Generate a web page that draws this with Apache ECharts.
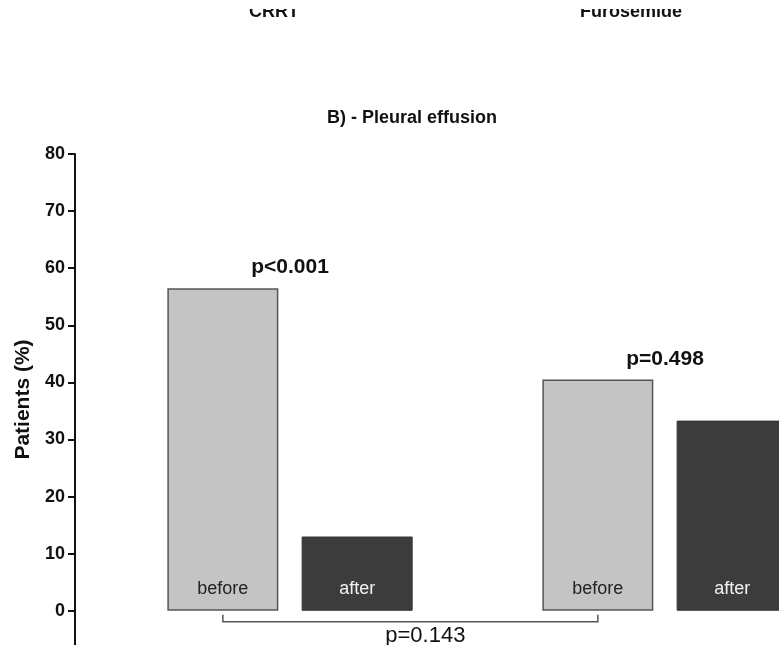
<!DOCTYPE html>
<html>
<head>
<meta charset="utf-8">
<script src="https://cdn.jsdelivr.net/npm/echarts@6/dist/echarts.min.js"></script>
<style>
  html, body { margin: 0; padding: 0; background: #ffffff; }
  #chart { width: 779px; height: 645px; }
</style>
</head>
<body>
<div id="chart"></div>
<script>
// Pleural effusion, share of patients before / after treatment
const categories = ['CRRT', 'Furosemide'];
const beforeValues = [56.5, 40.5];
const afterValues = [13.0, 33.3];
const withinGroupP = ['p<0.001', 'p=0.498'];
const betweenGroupP = 'p=0.143';
const yTicks = [0, 10, 20, 30, 40, 50, 60, 70, 80];
const upperPanelLabels = ['CRRT', 'Furosemide'];

const FONT = "'Liberation Sans', Arial, Helvetica, sans-serif";
const BAR_WIDTH = 111;
const BAR_GAP = 0.21;
// distance from a group's centre to the centre of each of its two bars
const HALF_PITCH = (BAR_WIDTH + BAR_WIDTH * BAR_GAP) / 2;

const chart = echarts.init(document.getElementById('chart'), null, { renderer: 'canvas' });

const option = {
  backgroundColor: '#ffffff',
  animation: false,
  title: {
    text: 'B) - Pleural effusion',
    left: 327,
    top: 109,
    padding: 0,
    textStyle: { fontFamily: FONT, fontWeight: 'bold', fontSize: 18, color: '#111' }
  },
  grid: {
    left: 102.5, width: 750, top: 154, bottom: 0,
    containLabel: false, outerBoundsMode: 'none'
  },
  xAxis: {
    type: 'category',
    data: categories,
    show: false
  },
  yAxis: {
    type: 'value',
    min: -6,
    max: 80,
    offset: 27.5,
    name: 'Patients (%)',
    nameLocation: 'middle',
    nameRotate: 90,
    nameGap: 40,
    nameTextStyle: { fontFamily: FONT, fontWeight: 'bold', fontSize: 21, color: '#111' },
    axisLine: { show: true, lineStyle: { color: '#111', width: 2 } },
    axisTick: { show: true, length: 7, customValues: yTicks, lineStyle: { color: '#111', width: 2 } },
    axisLabel: {
      customValues: yTicks,
      margin: 10,
      fontFamily: FONT, fontWeight: 'bold', fontSize: 18, color: '#111'
    },
    splitLine: { show: false }
  },
  series: [
    {
      name: 'before',
      type: 'bar',
      data: beforeValues,
      barWidth: BAR_WIDTH,
      barGap: (BAR_GAP * 100) + '%',
      itemStyle: { color: '#c4c4c4', borderColor: '#555', borderWidth: 1.5 },
      label: {
        show: true, position: 'insideBottom', distance: 13,
        formatter: 'before',
        fontFamily: FONT, fontSize: 18, color: '#222'
      }
    },
    {
      name: 'after',
      type: 'bar',
      data: afterValues,
      barWidth: BAR_WIDTH,
      itemStyle: { color: '#3c3c3c', borderColor: '#333', borderWidth: 1 },
      label: {
        show: true, position: 'insideBottom', distance: 13,
        formatter: 'after',
        fontFamily: FONT, fontSize: 18, color: '#f2f2f2'
      }
    },
    {
      // within-group p-values, centred over each pair above the "before" bar
      name: 'pWithin',
      type: 'scatter',
      data: beforeValues,
      symbolSize: 0,
      silent: true,
      itemStyle: { opacity: 1 },
      label: {
        show: true, position: 'top', distance: 10,
        formatter: (p) => withinGroupP[p.dataIndex],
        fontFamily: FONT, fontWeight: 'bold', fontSize: 21, color: '#111'
      }
    },
    {
      // bracket joining the two "before" bars, with its p-value below
      name: 'pBetween',
      type: 'custom',
      silent: true,
      data: [[0, 1]],
      renderItem: (params, api) => {
        const a = api.coord([api.value(0), 0]);
        const b = api.coord([api.value(1), 0]);
        const x1 = a[0] - HALF_PITCH;
        const x2 = b[0] - HALF_PITCH;
        const y = a[1] + 11;
        return {
          type: 'group',
          children: [
            {
              type: 'polyline',
              shape: { points: [[x1, y - 7], [x1, y], [x2, y], [x2, y - 7]] },
              style: { stroke: '#555', lineWidth: 1.5, fill: null }
            },
            {
              type: 'text',
              style: {
                text: betweenGroupP,
                x: (x1 + x2) / 2 + 15, y: y + 3,
                align: 'center', verticalAlign: 'top',
                font: '22px ' + FONT, fill: '#111'
              }
            }
          ]
        };
      }
    }
  ],
  graphic: [
    // category labels of the panel above, cut by the top edge
    { type: 'text', silent: true,
      style: { text: upperPanelLabels[0], x: 274, y: 21, align: 'center', verticalAlign: 'bottom',
               font: 'bold 18px ' + FONT, fill: '#111' } },
    { type: 'text', silent: true,
      style: { text: upperPanelLabels[1], x: 631, y: 21, align: 'center', verticalAlign: 'bottom',
               font: 'bold 18px ' + FONT, fill: '#111' } },
    { type: 'rect', silent: true, z: 100,
      shape: { x: 0, y: 0, width: 779, height: 9 }, style: { fill: '#ffffff' } }
  ]
};

chart.setOption(option);
</script>
</body>
</html>
